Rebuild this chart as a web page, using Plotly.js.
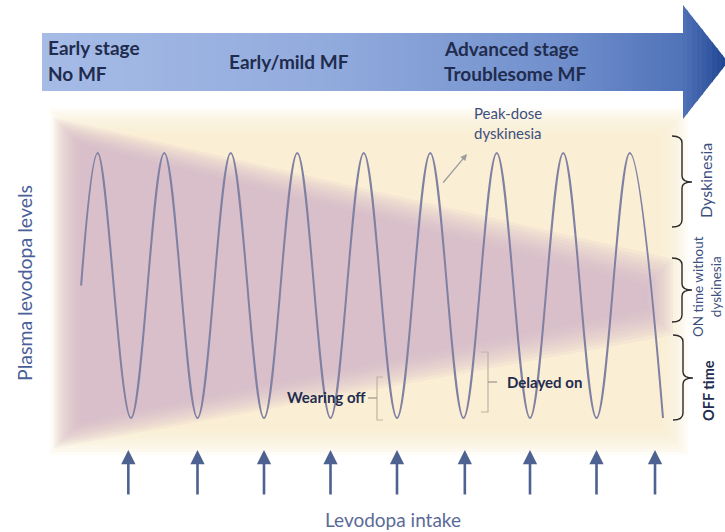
<!DOCTYPE html>
<html>
<head>
<meta charset="utf-8">
<script src="https://cdn.plot.ly/plotly-3.0.1.min.js"></script>
<style>html,body{margin:0;padding:0;background:#fff;}#chart{width:725px;height:532px;}</style>
</head>
<body>
<div id="chart"></div>
<script>
// ---------- data ----------
// time in dose intervals, plasma level normalised (0 = trough, 1 = peak)
const waveTime  = [0.25, 0.5, 1, 1.5, 2, 2.5, 3, 3.5, 4, 4.5, 5, 5.5, 6, 6.5, 7, 7.5, 8, 8.5, 9];
const waveLevel = [0.5, 1, 0, 1, 0, 1, 0, 1, 0, 1, 0, 1, 0, 1, 0, 1, 0, 1, 0];
const doseTimes = [0.96, 2, 3, 4, 5, 6.02, 7, 8, 8.88];
const stageLabels = ["Early stage", "No MF", "Early/mild MF", "Advanced stage", "Troublesome MF"];
const stateLabels = ["Dyskinesia", "ON time without<br>dyskinesia", "OFF time"];
const yLabel = "Plasma levodopa levels";
const xLabel = "Levodopa intake";
const noteLabels = ["Peak-dose", "dyskinesia", "Wearing off", "Delayed on"];

// ---------- helpers (pixel -> paper) ----------
const W = 725, H = 532;
const PX = x => x / W;
const PY = y => 1 - y / H;
const P = (x, y) => PX(x).toFixed(5) + ',' + PY(y).toFixed(5);

const shapes = [];

// soft cream glow rectangle
(function () {
  const steps = 10, spread = 26;
  for (let i = 0; i < steps; i++) {
    const d = spread / 2 - i * spread / (steps - 1);
    shapes.push({type: 'rect', xref: 'paper', yref: 'paper', layer: 'below',
      x0: PX(63 - d), x1: PX(675 + d), y0: PY(442 + d), y1: PY(121 - d),
      fillcolor: 'rgb(252,240,208)', opacity: 0.17, line: {width: 0}});
  }
})();

// soft mauve wedge
(function () {
  const steps = 10, spread = 26;
  for (let i = 0; i < steps; i++) {
    const d = spread / 2 - i * spread / (steps - 1);
    const path = 'M ' + P(67 - d, 131 - d) + ' L ' + P(660 + d, 272 - d) + ' L ' +
      P(660 + d, 322 + d) + ' L ' + P(67 - d, 435 + d) + ' Z';
    shapes.push({type: 'path', xref: 'paper', yref: 'paper', layer: 'below', path: path,
      fillcolor: 'rgb(212,180,200)', opacity: 0.13, line: {width: 0}});
  }
})();

// banner arrow with horizontal gradient (strips)
(function () {
  const stops = [[42, [166, 187, 230]], [330, [146, 171, 221]], [560, [112, 143, 204]],
                 [683, [80, 114, 184]], [728, [30, 68, 145]]];
  function colAt(x) {
    for (let i = 0; i < stops.length - 1; i++) {
      const [xa, ca] = stops[i], [xb, cb] = stops[i + 1];
      if (x <= xb) {
        const t = Math.max(0, (x - xa) / (xb - xa));
        return 'rgb(' + ca.map((c, k) => Math.round(c + (cb[k] - c) * t)).join(',') + ')';
      }
    }
    return 'rgb(30,68,145)';
  }
  const bodyTop = 33, bodyBot = 91, headX = 683, tipX = 728, headTop = 5, headBot = 119, tipY = 62;
  const top = x => headTop + (x - headX) * (tipY - headTop) / (tipX - headX);
  const bot = x => headBot - (x - headX) * (headBot - tipY) / (tipX - headX);
  const step = 5;
  for (let x = 42; x < tipX; x += step) {
    const xa = x, xb = Math.min(x + step, tipX);
    const col = colAt((xa + xb) / 2);
    if (xa < headX) {
      shapes.push({type: 'rect', xref: 'paper', yref: 'paper', layer: 'below',
        x0: PX(xa), x1: PX(Math.min(xb, headX) + 1), y0: PY(bodyBot), y1: PY(bodyTop),
        fillcolor: col, line: {width: 0}});
    }
    if (xb > headX) {
      const a = Math.max(xa, headX), b = Math.min(xb + 0.8, tipX);
      const path = 'M ' + P(a, top(a)) + ' L ' + P(b, top(b)) + ' L ' + P(b, bot(b)) +
        ' L ' + P(a, bot(a)) + ' Z';
      shapes.push({type: 'path', xref: 'paper', yref: 'paper', layer: 'below', path: path,
        fillcolor: col, line: {width: 0}});
    }
  }
})();

// curly braces on the right
function brace(s, y1, ym, y2) {
  return 'M ' + P(s - 10, y1) + ' Q ' + P(s, y1) + ' ' + P(s, y1 + 7) +
    ' L ' + P(s, ym - 6) + ' Q ' + P(s, ym) + ' ' + P(s + 10, ym) +
    ' Q ' + P(s, ym) + ' ' + P(s, ym + 6) +
    ' L ' + P(s, y2 - 7) + ' Q ' + P(s, y2) + ' ' + P(s - 10, y2);
}
[[682, 136, 182, 227], [682, 258, 290, 322], [683, 335, 378, 420]].forEach(b => {
  shapes.push({type: 'path', xref: 'paper', yref: 'paper', path: brace(...b),
    line: {color: '#2a2a2a', width: 1.4}});
});

// thin square brackets
shapes.push({type: 'path', xref: 'paper', yref: 'paper',
  path: 'M ' + P(383, 377) + ' L ' + P(377, 377) + ' L ' + P(377, 420) + ' L ' + P(383, 420),
  line: {color: '#bdb4a4', width: 1.2}});
shapes.push({type: 'path', xref: 'paper', yref: 'paper',
  path: 'M ' + P(368, 398) + ' L ' + P(377, 398), line: {color: '#9a9488', width: 1.2}});
shapes.push({type: 'path', xref: 'paper', yref: 'paper',
  path: 'M ' + P(481, 352) + ' L ' + P(488, 352) + ' L ' + P(488, 412) + ' L ' + P(481, 412),
  line: {color: '#bdb4a4', width: 1.2}});
shapes.push({type: 'path', xref: 'paper', yref: 'paper',
  path: 'M ' + P(488, 382) + ' L ' + P(497, 382), line: {color: '#9a9488', width: 1.2}});

// ---------- annotations ----------
const navy = '#1f2c4e';
const ann = [];
function txt(text, x, y, opts) {
  ann.push(Object.assign({text: text, xref: 'paper', yref: 'paper', x: PX(x), y: PY(y),
    xanchor: 'center', yanchor: 'middle', showarrow: false}, opts));
}
const bannerFont = {family: 'Lato, "Open Sans", sans-serif', size: 19, color: navy, weight: 700};
txt(stageLabels[0], 46, 47, {xanchor: 'left', font: bannerFont});
txt(stageLabels[1], 46, 73, {xanchor: 'left', font: bannerFont});
txt(stageLabels[2], 227, 62, {xanchor: 'left', font: bannerFont});
txt(stageLabels[3], 442, 49, {xanchor: 'left', font: bannerFont});
txt(stageLabels[4], 442, 73, {xanchor: 'left', font: bannerFont});

txt(yLabel, 24, 283, {textangle: -90, font: {family: 'Lato, sans-serif', size: 19.5, color: '#4a5e98'}});
txt(xLabel, 393, 519, {font: {family: 'Lato, sans-serif', size: 19, color: '#5a6a98'}});

const noteFont = {family: 'Lato, sans-serif', size: 15, color: '#3d4f7e'};
txt(noteLabels[0], 508, 113, {font: noteFont});
txt(noteLabels[1], 508, 133, {font: noteFont});
const boldNote = {family: 'Lato, sans-serif', size: 15, color: navy, weight: 700};
txt(noteLabels[2], 326, 397, {font: boldNote});
txt(noteLabels[3], 544, 382, {font: boldNote});

txt(stateLabels[0], 705, 181, {textangle: -90, font: {family: 'Lato, sans-serif', size: 16, color: '#3d4f7e'}});
txt(stateLabels[1], 707, 287, {textangle: -90, font: {family: 'Lato, sans-serif', size: 13.5, color: '#3d4f7e'}});
txt(stateLabels[2], 708, 391, {textangle: -90, font: {family: 'Lato, sans-serif', size: 14.5, color: navy, weight: 700}});

// peak-dose pointer arrow
ann.push({xref: 'paper', yref: 'paper', x: PX(467), y: PY(154), ax: -25, ay: 30, text: '',
  showarrow: true, arrowhead: 2, arrowsize: 1, arrowwidth: 1.3, arrowcolor: '#9c9c9c'});

// levodopa intake arrows (one per dose time)
doseTimes.forEach(t => {
  ann.push({xref: 'x', yref: 'paper', x: t, y: PY(450), ax: 0, ay: 46, text: '',
    showarrow: true, arrowhead: 2, arrowsize: 1.1, arrowwidth: 2.6, arrowcolor: '#4d6291'});
});

// ---------- plot ----------
const trace = {
  x: waveTime, y: waveLevel, type: 'scatter', mode: 'lines',
  line: {color: 'rgb(128,128,162)', width: 2, shape: 'spline', smoothing: 1},
  hoverinfo: 'skip'
};

const layout = {
  width: W, height: H,
  margin: {l: 0, r: 0, t: 0, b: 0, pad: 0},
  paper_bgcolor: '#ffffff', plot_bgcolor: 'rgba(0,0,0,0)',
  showlegend: false,
  xaxis: {range: [(0 - 131) / 66.5 + 1, (725 - 131) / 66.5 + 1], visible: false, fixedrange: true},
  yaxis: {range: [(418 - 532) / 265, 418 / 265], visible: false, fixedrange: true},
  shapes: shapes,
  annotations: ann
};

Plotly.newPlot('chart', [trace], layout, {displayModeBar: false, staticPlot: true});
</script>
</body>
</html>
